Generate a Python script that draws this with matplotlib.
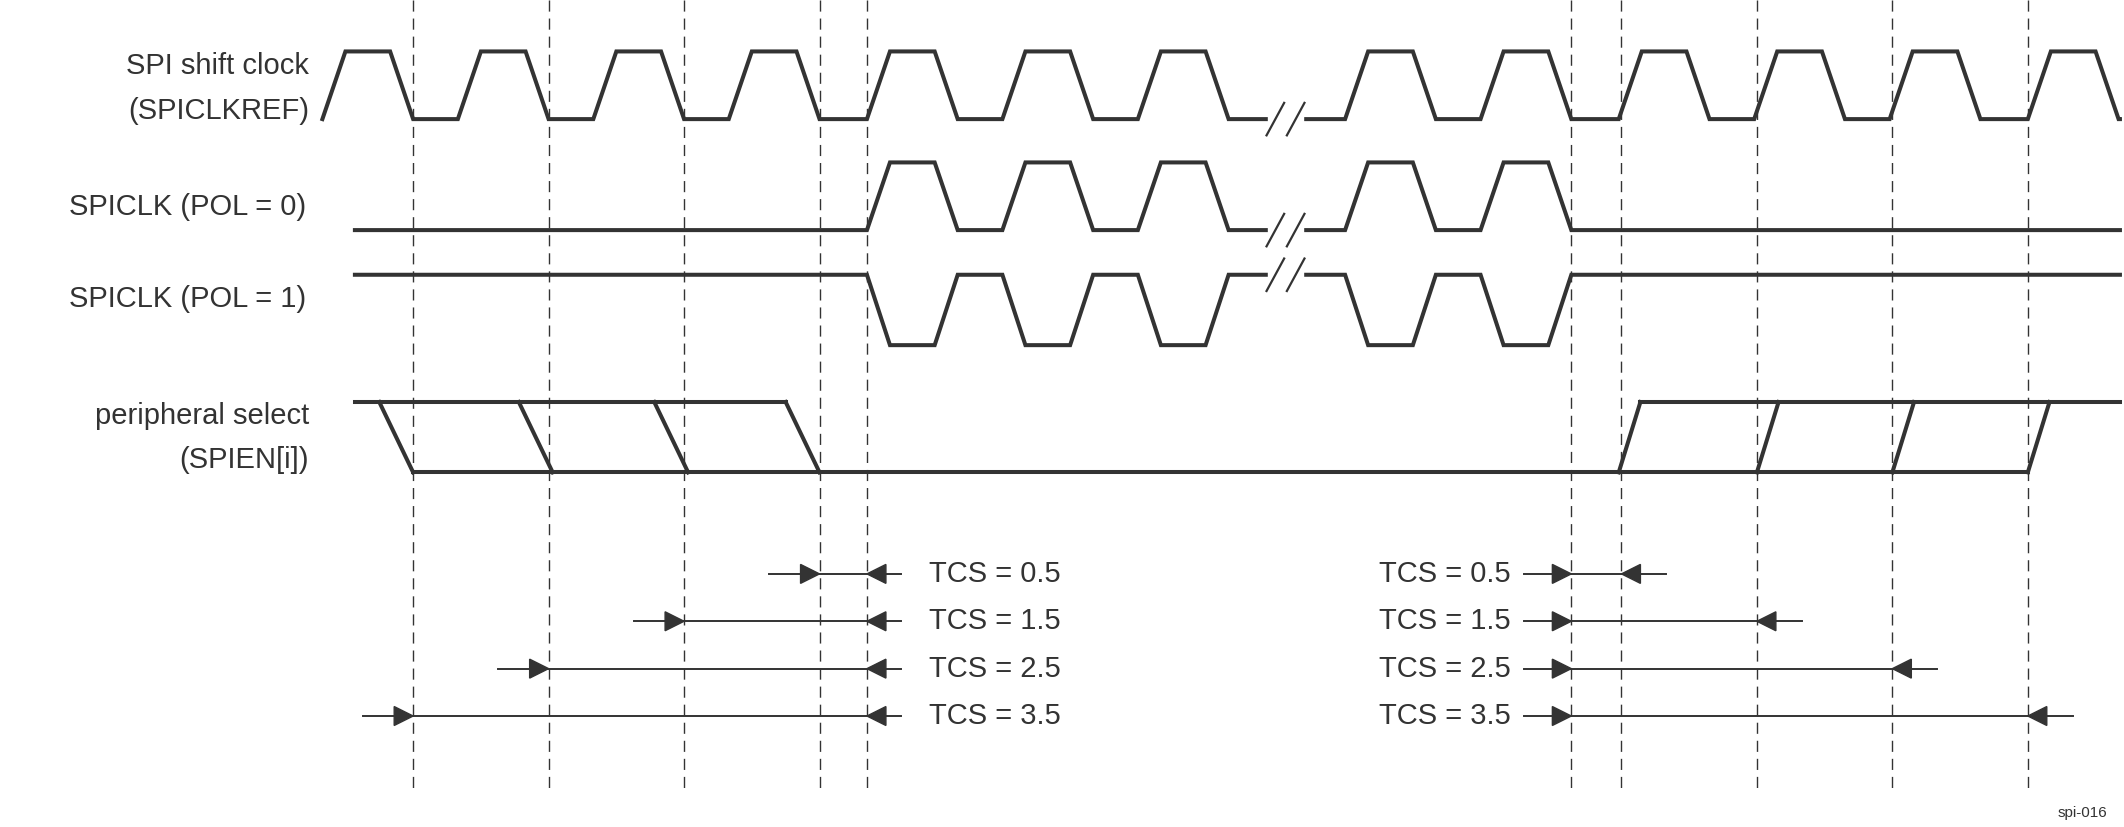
import matplotlib
matplotlib.use("Agg")
import matplotlib.pyplot as plt

W, H = 1568, 611
C = "#333333"
LW = 2.9
FS = 21
plt.rcParams['font.family'] = ['Liberation Sans', 'DejaVu Sans']

# clock waveform: times where the signal starts rising; each pulse is rise(17) high(33) fall(17)
ref_rises = [238, 338, 438, 538, 640, 740, 840, 993, 1093, 1195, 1295, 1395, 1497]
ref_end_first = 238
spiclk_rises = [640, 740, 840, 993, 1093]
dashed_x = [305, 405, 505, 605, 640, 1160, 1197, 1297, 1397, 1497]
cs_fall_start = [280, 383, 483, 580]
cs_rise_start = [1195, 1297, 1397, 1497]
tcs_labels = ["TCS = 0.5", "TCS = 1.5", "TCS = 2.5", "TCS = 3.5"]
tcs_y = [424, 459, 494, 529]
left_starts = [605, 505, 405, 305]
right_ends = [1197, 1297, 1397, 1497]

fig = plt.figure(figsize=(21.24, 8.27), dpi=100)
ax = fig.add_axes([0, 0, 1, 1])
ax.set_xlim(0, W); ax.set_ylim(H, 0); ax.axis('off')

def clock(rises, lo, hi, x0, x1, invert=False):
    a, b = (lo, hi) if not invert else (hi, lo)
    xs, ys = [x0], [a]
    for r in rises:
        xs += [r, r + 17, r + 50, r + 67]; ys += [a, b, b, a]
    xs.append(x1); ys.append(a)
    return xs, ys

def draw_with_break(xs, ys, ybrk):
    ax.plot(xs, ys, color=C, lw=LW, solid_joinstyle='miter')
    ax.fill_between([936, 962], ybrk - 30, ybrk + 30, color='white', zorder=3)
    for dx in (0, 15):
        ax.plot([935 + dx, 948 + dx], [ybrk + 12, ybrk - 12], color=C, lw=1.6, zorder=4)

# SPICLKREF
xs, ys = clock(ref_rises[1:], 88, 38, 305, 1568)
xs = [238, 255, 288] + xs; ys = [88, 38, 38] + ys
xs[-1] = 1565
# final pulse ends falling at edge
draw_with_break(xs, ys, 88)
# SPICLK POL=0/1
xs, ys = clock(spiclk_rises, 170, 120, 262, 1565)
draw_with_break(xs, ys, 170)
xs, ys = clock(spiclk_rises, 203, 255, 262, 1565)
draw_with_break(xs, ys, 203)

# peripheral select
ax.plot([262, 580], [297, 297], color=C, lw=LW)
for s in cs_fall_start:
    ax.plot([s, s + 25], [297, 349], color=C, lw=LW)
ax.plot([305, 1497], [349, 349], color=C, lw=LW)
for s in cs_rise_start:
    ax.plot([s, s + 16], [349, 297], color=C, lw=LW)
ax.plot([1211, 1565], [297, 297], color=C, lw=LW)

for x in dashed_x:
    ax.plot([x, x], [0, 582], color=C, lw=1.0, dashes=(8, 5))

def arrow(xtip, y, direction):
    L = 14
    ax.fill([xtip, xtip - direction * L, xtip - direction * L], [y, y - 7, y + 7], color=C, zorder=5)

for lab, y, s in zip(tcs_labels, tcs_y, left_starts):
    ax.plot([s - 37, 640 + 25], [y, y], color=C, lw=1.4)
    arrow(s, y, 1); arrow(640, y, -1)
    ax.text(686, y, lab, fontsize=FS, va='center', ha='left', color=C)
for lab, y, e in zip(tcs_labels, tcs_y, right_ends):
    ax.plot([1125, e + 33], [y, y], color=C, lw=1.4)
    arrow(1160, y, 1); arrow(e, y, -1)
    ax.text(1115, y, lab, fontsize=FS, va='center', ha='right', color=C)

tk = dict(fontsize=FS, color=C, ha='right', va='center')
ax.text(228, 49, "SPI shift clock", **tk)
ax.text(228, 82, "(SPICLKREF)", **tk)
ax.text(226, 153, "SPICLK (POL = 0)", **tk)
ax.text(226, 221, "SPICLK (POL = 1)", **tk)
ax.text(228, 307, "peripheral select", **tk)
ax.text(228, 340, "(SPIEN[i])", **tk)
ax.text(1556, 601, "spi-016", fontsize=11, color=C, ha='right', va='center')

fig.savefig("out.png", dpi=100)
